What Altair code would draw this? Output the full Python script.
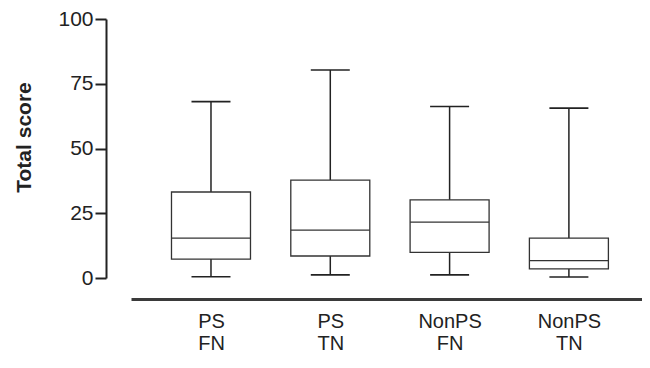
import altair as alt
import pandas as pd

groups = ["PS FN", "PS TN", "NonPS FN", "NonPS TN"]
lower = [0.5, 1.2, 1.2, 0.4]
q1 = [7.3, 8.5, 9.9, 3.5]
median = [15.4, 18.5, 21.6, 6.7]
q3 = [33.2, 37.8, 30.2, 15.4]
upper = [68.1, 80.3, 66.2, 65.6]
y_ticks = [0, 25, 50, 75, 100]

df = pd.DataFrame({"group": groups, "lower": lower, "q1": q1, "median": median,
                   "q3": q3, "upper": upper})

FONT = "Liberation Sans"
INK = "#222222"

x_enc = alt.X("group:N", sort=groups,
              scale=alt.Scale(type="point", padding=0.6416, align=0.5225),
              axis=alt.Axis(title=None, ticks=False, tickSize=0, domainWidth=3,
                            domainColor="#3a3a3a", offset=21, labelAngle=0,
                            labelExpr="split(datum.label, ' ')",
                            labelFont=FONT, labelFontSize=20, labelLineHeight=22,
                            labelColor=INK, labelPadding=12, labelOverlap=False))

y_axis = alt.Axis(values=y_ticks, tickSize=11, tickWidth=2, tickColor=INK,
                  domainWidth=2, domainColor=INK, offset=25, grid=False,
                  labelFont=FONT, labelFontSize=21, labelColor=INK, labelPadding=2,
                  title="Total score", titleFont=FONT, titleFontSize=21,
                  titleFontWeight="bold", titleColor=INK, titleX=-82, titleY=118,
                  titleBaseline="middle", titleAngle=270)

y_scale = alt.Scale(domain=[0, 100], nice=False, zero=True)

base = alt.Chart(df).encode(x=x_enc)

whisker = base.mark_rule(color=INK, strokeWidth=1.5).encode(
    y=alt.Y("lower:Q", scale=y_scale, axis=y_axis), y2="upper:Q")
box = base.mark_bar(size=79, fill="white", stroke="#333333", strokeWidth=1.3).encode(
    y=alt.Y("q1:Q", scale=y_scale), y2="q3:Q")
med = base.mark_tick(size=79, thickness=1.3, color="#333333", opacity=1).encode(
    y=alt.Y("median:Q", scale=y_scale))
cap_lo = base.mark_tick(size=39, thickness=1.6, color=INK, opacity=1).encode(
    y=alt.Y("lower:Q", scale=y_scale))
cap_hi = base.mark_tick(size=39, thickness=1.6, color=INK, opacity=1).encode(
    y=alt.Y("upper:Q", scale=y_scale))

chart = alt.layer(whisker, box, med, cap_lo, cap_hi).properties(
    width=511, height=259,
    padding={"left": 123, "top": 11, "right": 0, "bottom": 76},
    autosize=alt.AutoSizeParams(type="none"),
    background="white",
).configure_view(stroke=None)

chart.save("out.html", embed_options={"renderer": "svg", "actions": False})
